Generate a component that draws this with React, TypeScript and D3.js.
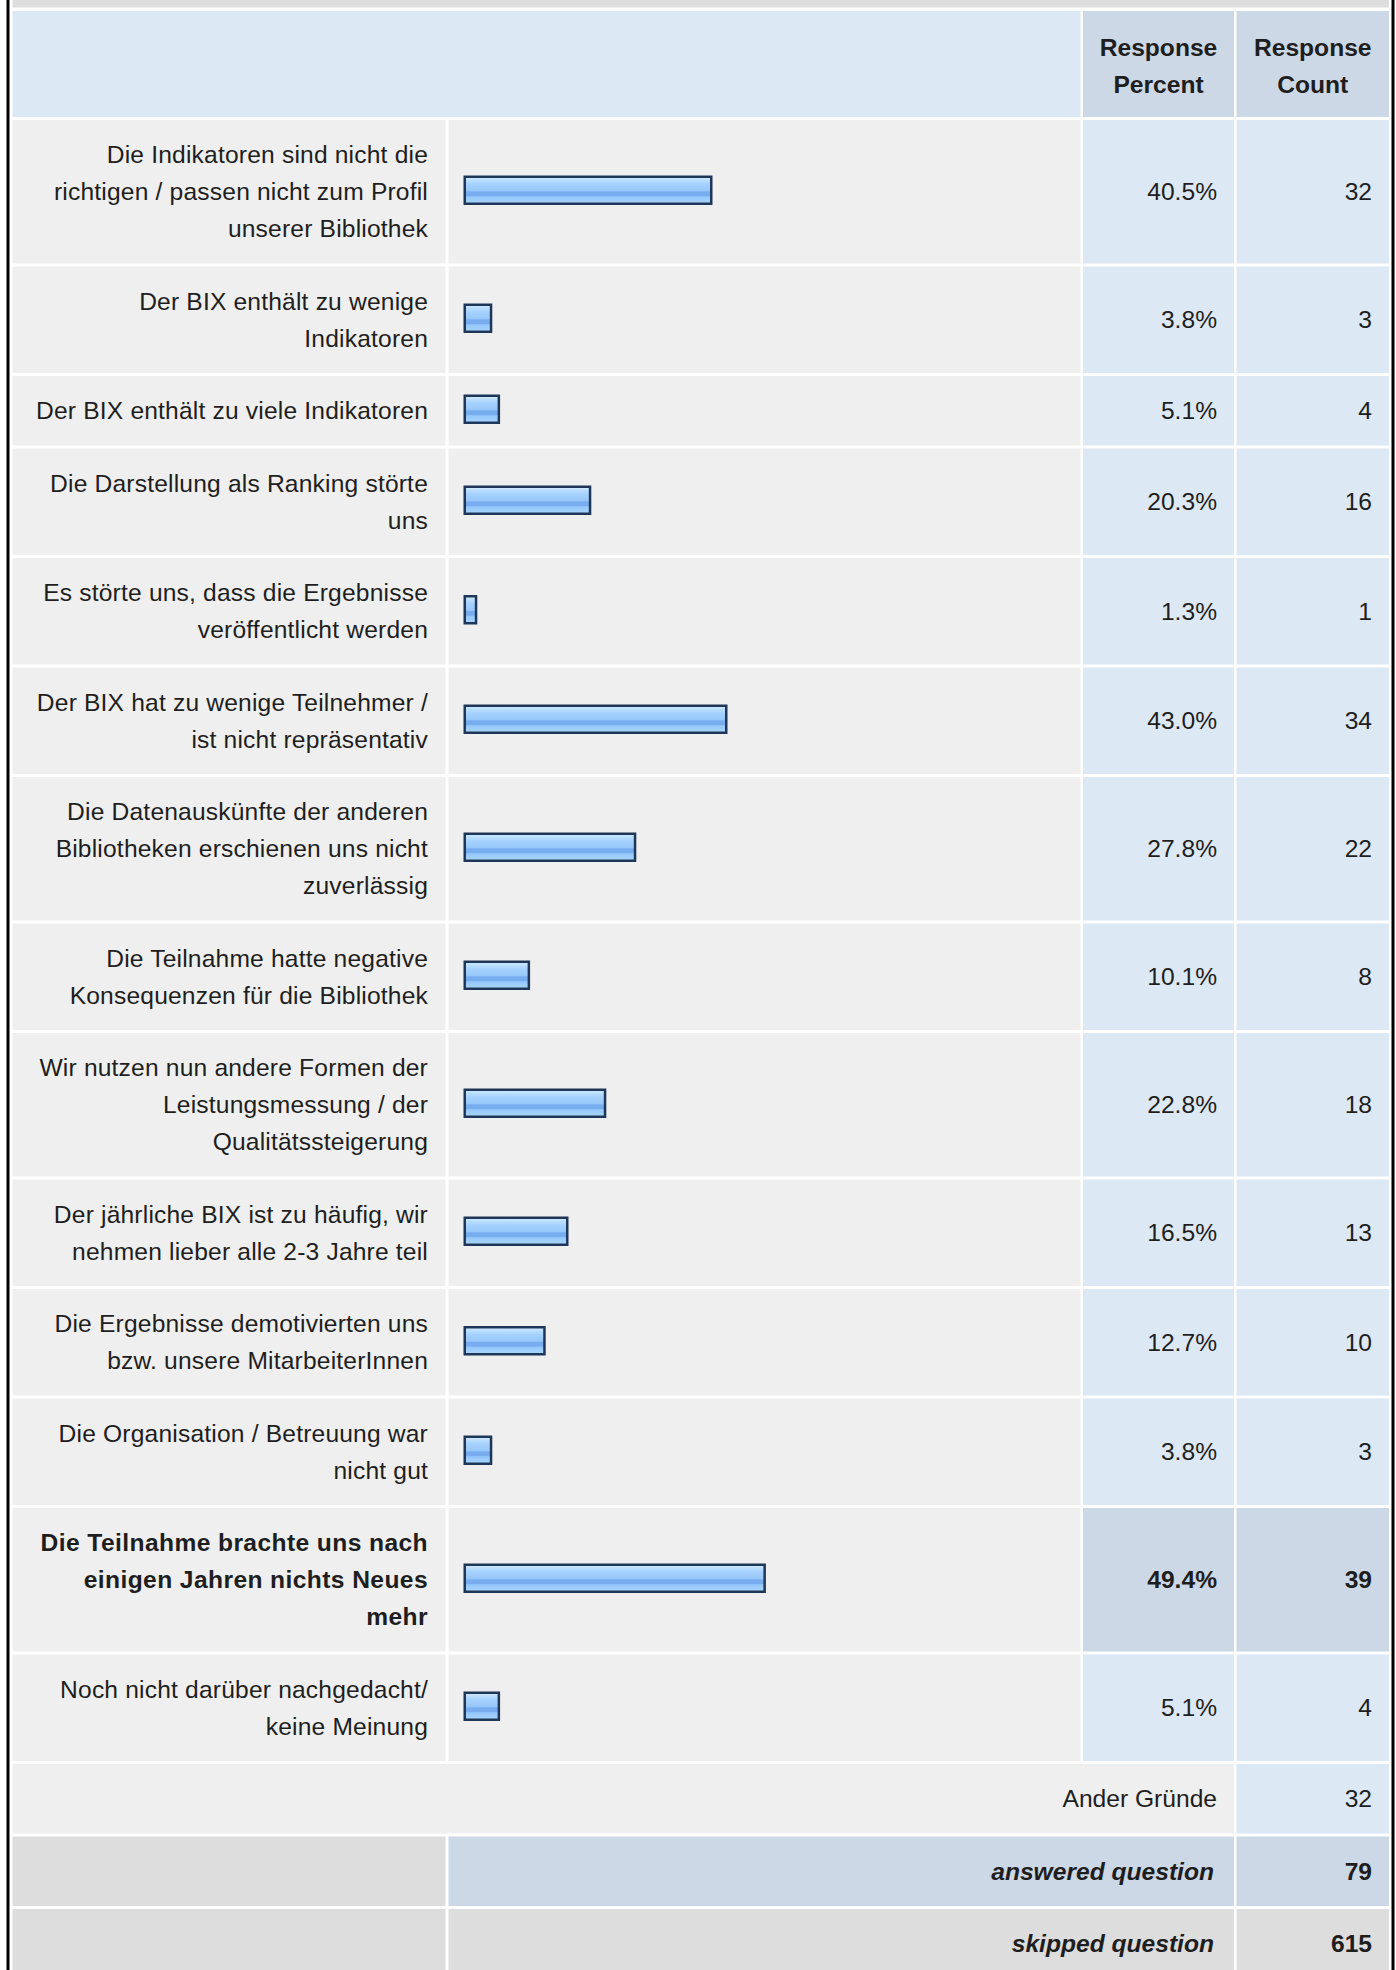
import React from "react";
import * as d3 from "d3";

// ---------- data ----------
const answerLines: string[][] = [
  ["Die Indikatoren sind nicht die", "richtigen / passen nicht zum Profil", "unserer Bibliothek"],
  ["Der BIX enthält zu wenige", "Indikatoren"],
  ["Der BIX enthält zu viele Indikatoren"],
  ["Die Darstellung als Ranking störte", "uns"],
  ["Es störte uns, dass die Ergebnisse", "veröffentlicht werden"],
  ["Der BIX hat zu wenige Teilnehmer /", "ist nicht repräsentativ"],
  ["Die Datenauskünfte der anderen", "Bibliotheken erschienen uns nicht", "zuverlässig"],
  ["Die Teilnahme hatte negative", "Konsequenzen für die Bibliothek"],
  ["Wir nutzen nun andere Formen der", "Leistungsmessung / der", "Qualitätssteigerung"],
  ["Der jährliche BIX ist zu häufig, wir", "nehmen lieber alle 2-3 Jahre teil"],
  ["Die Ergebnisse demotivierten uns", "bzw. unsere MitarbeiterInnen"],
  ["Die Organisation / Betreuung war", "nicht gut"],
  ["Die Teilnahme brachte uns nach", "einigen Jahren nichts Neues", "mehr"],
  ["Noch nicht darüber nachgedacht/", "keine Meinung"],
];
const responsePercent = [40.5, 3.8, 5.1, 20.3, 1.3, 43.0, 27.8, 10.1, 22.8, 16.5, 12.7, 3.8, 49.4, 5.1];
const responseCount = [32, 3, 4, 16, 1, 34, 22, 8, 18, 13, 10, 3, 39, 4];
const highlightedAnswer = 12;
const headerPercent = ["Response", "Percent"];
const headerCount = ["Response", "Count"];
const otherLabel = "Ander Gründe";
const otherCount = 32;
const answeredLabel = "answered question";
const answeredCount = 79;
const skippedLabel = "skipped question";
const skippedCount = 615;

// ---------- layout ----------
const W = 1396;
const H = 1970;
const FS = 24.6;
const LH = 37;
const PAD = 32.5;
const GAP = 3;
const BASE = 8.5;
const FONT = "'Liberation Sans', Arial, Helvetica, sans-serif";

const C = {
  l0: 12.5, l1: 445.5, b0: 448.5, b1: 1080.5, p0: 1083, p1: 1234, c0: 1236.5, c1: 1389,
};
const labelEnd = C.l1 - 17.5;
const pctEnd = C.p1 - 17;
const cntEnd = C.c1 - 17;
const barStart = C.b0 + 15;

const COL = {
  grayBand: "#dddddd",
  headBlue: "#dde8f5",
  headDark: "#ccd8e6",
  cellGray: "#efefef",
  cellBlue: "#dde8f5",
  text: "#1e1e1e",
};

const xBar = d3.scaleLinear().domain([0, 100]).range([0, 600]);
const barCap = 6;
const fmtPct = (v: number) => d3.format(".1f")(v) + "%";

function rowHeight(lines: number) {
  return PAD + lines * LH;
}

export default function App() {
  const headerTop = 11;
  const headerH = rowHeight(2) - 0.5;
  let y = headerTop + headerH + GAP;
  const rows = answerLines.map((lines, i) => {
    const h = rowHeight(lines.length);
    const r = { top: y, h, lines, i };
    y += h + GAP;
    return r;
  });
  const otherTop = y;
  const otherH = rowHeight(1);
  const answeredTop = otherTop + otherH + GAP;
  const answeredH = rowHeight(1);
  const skippedTop = answeredTop + answeredH + GAP;
  const skippedH = rowHeight(1);

  const txt = (
    x: number,
    yy: number,
    s: string | number,
    opts: { anchor?: string; bold?: boolean; italic?: boolean; key?: string; ls?: number } = {}
  ) => (
    <text
      key={opts.key}
      x={x}
      y={yy}
      textAnchor={opts.anchor || "end"}
      fontFamily={FONT}
      fontSize={FS}
      fontWeight={opts.bold ? "bold" : "normal"}
      fontStyle={opts.italic ? "italic" : "normal"}
      letterSpacing={opts.ls ? opts.ls : undefined}
      fill={COL.text}
    >
      {s}
    </text>
  );

  const headerMid = headerTop + headerH / 2;

  return (
    <svg
      width={W}
      height={H}
      viewBox={`0 0 ${W} ${H}`}
      style={{ position: "absolute", left: 0, top: 0, background: "#fff" }}
    >
      <defs>
        <linearGradient id="barGrad" x1="0" y1="0" x2="0" y2="1">
          <stop offset="0%" stopColor="#d6ecff" />
          <stop offset="14%" stopColor="#b9ddff" />
          <stop offset="28%" stopColor="#a5d1fd" />
          <stop offset="52%" stopColor="#97c7f9" />
          <stop offset="56%" stopColor="#77acee" />
          <stop offset="70%" stopColor="#77acee" />
          <stop offset="74%" stopColor="#94c7fa" />
          <stop offset="100%" stopColor="#a9d6ff" />
        </linearGradient>
      </defs>
      <rect x={0} y={0} width={W} height={H} fill="#ffffff" />

      {/* top gray band */}
      <rect x={C.l0} y={0} width={C.c1 - C.l0} height={7.5} fill={COL.grayBand} />

      {/* header */}
      <rect x={C.l0} y={headerTop} width={C.b1 - C.l0} height={headerH} fill={COL.headBlue} />
      <rect x={C.p0} y={headerTop} width={C.p1 - C.p0} height={headerH} fill={COL.headDark} />
      <rect x={C.c0} y={headerTop} width={C.c1 - C.c0} height={headerH} fill={COL.headDark} />
      {headerPercent.map((s, k) =>
        txt((C.p0 + C.p1) / 2, headerMid + (k - 0.5) * LH + BASE + 1.5, s, {
          anchor: "middle",
          bold: true,
          key: "hp" + k,
        })
      )}
      {headerCount.map((s, k) =>
        txt((C.c0 + C.c1) / 2, headerMid + (k - 0.5) * LH + BASE + 1.5, s, {
          anchor: "middle",
          bold: true,
          key: "hc" + k,
        })
      )}

      {/* answer rows */}
      {rows.map((r) => {
        const mid = r.top + r.h / 2;
        const hl = r.i === highlightedAnswer;
        const numFill = hl ? COL.headDark : COL.cellBlue;
        const n = r.lines.length;
        const bw = barCap + xBar(responsePercent[r.i]);
        const bh = 29.5;
        const by = mid - 1.5 - bh / 2;
        return (
          <g key={"row" + r.i}>
            <rect x={C.l0} y={r.top} width={C.l1 - C.l0} height={r.h} fill={COL.cellGray} />
            <rect x={C.b0} y={r.top} width={C.b1 - C.b0} height={r.h} fill={COL.cellGray} />
            <rect x={C.p0} y={r.top} width={C.p1 - C.p0} height={r.h} fill={numFill} />
            <rect x={C.c0} y={r.top} width={C.c1 - C.c0} height={r.h} fill={numFill} />
            {r.lines.map((s, k) =>
              txt(labelEnd, mid + (k - (n - 1) / 2) * LH + BASE, s, {
                bold: hl,
                key: "l" + k,
                ls: hl ? 0.4 : 0.18,
              })
            )}
            <rect
              x={barStart + 1.25}
              y={by + 1.25}
              width={bw - 2.5}
              height={bh - 2.5}
              fill="url(#barGrad)"
              stroke="#1e3759"
              strokeWidth={2.5}
            />
            {txt(pctEnd, mid + BASE, fmtPct(responsePercent[r.i]), { bold: hl })}
            {txt(cntEnd, mid + BASE, responseCount[r.i], { bold: hl })}
          </g>
        );
      })}

      {/* other reasons */}
      <rect x={C.l0} y={otherTop} width={C.p1 - C.l0} height={otherH} fill={COL.cellGray} />
      <rect x={C.c0} y={otherTop} width={C.c1 - C.c0} height={otherH} fill={COL.cellBlue} />
      {txt(pctEnd, otherTop + otherH / 2 + BASE, otherLabel)}
      {txt(cntEnd, otherTop + otherH / 2 + BASE, otherCount)}

      {/* answered */}
      <rect x={C.l0} y={answeredTop} width={C.l1 - C.l0} height={answeredH} fill={COL.grayBand} />
      <rect x={C.b0} y={answeredTop} width={C.p1 - C.b0} height={answeredH} fill={COL.headDark} />
      <rect x={C.c0} y={answeredTop} width={C.c1 - C.c0} height={answeredH} fill={COL.headDark} />
      {txt(pctEnd - 3, answeredTop + answeredH / 2 + BASE, answeredLabel, { bold: true, italic: true })}
      {txt(cntEnd, answeredTop + answeredH / 2 + BASE, answeredCount, { bold: true })}

      {/* skipped */}
      <rect x={C.l0} y={skippedTop} width={C.l1 - C.l0} height={skippedH} fill={COL.grayBand} />
      <rect x={C.b0} y={skippedTop} width={C.p1 - C.b0} height={skippedH} fill={COL.grayBand} />
      <rect x={C.c0} y={skippedTop} width={C.c1 - C.c0} height={skippedH} fill={COL.grayBand} />
      {txt(pctEnd - 3, skippedTop + skippedH / 2 + BASE, skippedLabel, { bold: true, italic: true })}
      {txt(cntEnd, skippedTop + skippedH / 2 + BASE, skippedCount, { bold: true })}

      {/* outer black borders */}
      <rect x={6.5} y={0} width={3} height={H} fill="#000" />
      <rect x={1391.5} y={0} width={3} height={H} fill="#000" />
    </svg>
  );
}
